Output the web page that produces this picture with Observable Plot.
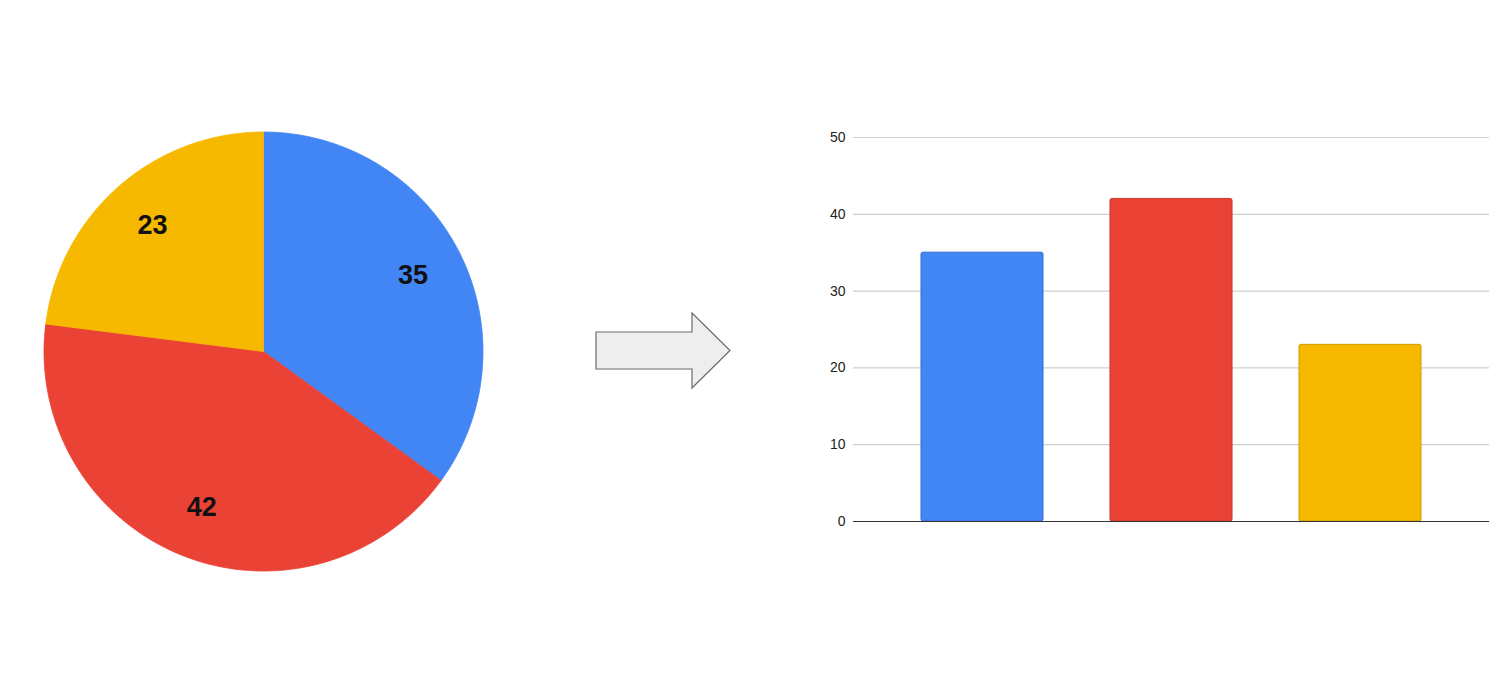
<!DOCTYPE html>
<html>
<head>
<meta charset="utf-8">
<script src="https://cdn.jsdelivr.net/npm/d3@7"></script>
<script src="https://cdn.jsdelivr.net/npm/@observablehq/plot@0.6"></script>
<style>
  html, body { margin: 0; padding: 0; background: #fff; }
  #wrap { position: relative; width: 1507px; height: 688px; overflow: hidden; background: #fff; font-family: "Liberation Sans", Arial, sans-serif; }
  .layer { position: absolute; }
</style>
</head>
<body>
<div id="wrap">
  <div id="pie" class="layer" style="left:23px; top:111px;"></div>
  <svg class="layer" style="left:0; top:0;" width="1507" height="688">
    <polygon points="596,332 692,332 692,313 730,350.5 692,388 692,369 596,369" fill="#eeeeee" stroke="#6b6b6b" stroke-width="1.2" stroke-linejoin="miter"/>
  </svg>
  <div id="bars" class="layer" style="left:0; top:0;"></div>
</div>
<script>
// Data
const categories = ["A", "B", "C"];
const values = [35, 42, 23];
const colors = ["#4285F4", "#EA4335", "#F6B900"];
const yTicks = [0, 10, 20, 30, 40, 50];

const rows = categories.map((c, i) => ({category: c, value: values[i], color: colors[i]}));

// ---------- Pie ----------
const pieGen = d3.pie().sort(null).value(d => d.value);
const arcs = pieGen(rows);
const slicePts = [];
arcs.forEach(a => {
  const n = Math.max(2, Math.ceil((a.endAngle - a.startAngle) / (Math.PI / 360)));
  slicePts.push({category: a.data.category, color: a.data.color, x: 0, y: 0});
  for (let k = 0; k <= n; k++) {
    const t = a.startAngle + (a.endAngle - a.startAngle) * k / n;
    slicePts.push({category: a.data.category, color: a.data.color, x: Math.sin(t), y: Math.cos(t)});
  }
  slicePts.push({category: a.data.category, color: a.data.color, x: 0, y: 0});
});
const labelR = 0.765;
const labels = arcs.map(a => {
  const m = (a.startAngle + a.endAngle) / 2;
  return {text: String(a.data.value), x: labelR * Math.sin(m), y: labelR * Math.cos(m)};
});
const half = 240 / 219.5;
const piePlot = Plot.plot({
  width: 480, height: 480,
  margin: 0,
  x: {domain: [-half, half], axis: null},
  y: {domain: [-half, half], axis: null},
  marks: [
    Plot.line(slicePts, {x: "x", y: "y", z: "category", fill: "color", stroke: "color", strokeWidth: 0.8, curve: "linear"}),
    Plot.text(labels, {x: "x", y: "y", text: "text", fontSize: 27, fontWeight: "bold", fill: "#111", fontFamily: "Liberation Sans, Arial, sans-serif"})
  ]
});
document.getElementById("pie").appendChild(piePlot);

// ---------- Bars ----------
const barPlot = Plot.plot({
  width: 1507, height: 688,
  marginLeft: 853, marginRight: 18, marginTop: 137, marginBottom: 167,
  style: {background: "transparent", fontFamily: "Liberation Sans, Arial, sans-serif", fontSize: "14px", color: "#222"},
  x: {domain: categories, padding: 0.356, axis: null},
  y: {domain: [0, 50], ticks: yTicks, label: null, tickSize: 0, tickPadding: 8},
  marks: [
    Plot.gridY(yTicks.filter(t => t > 0), {stroke: "#cfcfcf", strokeOpacity: 1, strokeWidth: 1.2}),
    Plot.axisY(yTicks, {tickSize: 0, tickPadding: 8, fontSize: 14, fill: "#222", label: null}),
    Plot.barY(rows, {x: "category", y: "value", fill: "color", stroke: "color", strokeWidth: 1, rx: 2}),
    Plot.barY(rows, {x: "category", y: "value", fill: "none", stroke: "#000", strokeOpacity: 0.15, strokeWidth: 1, rx: 2}),
    Plot.ruleY([0], {stroke: "#333", strokeWidth: 1.2})
  ]
});
document.getElementById("bars").appendChild(barPlot);
</script>
</body>
</html>
